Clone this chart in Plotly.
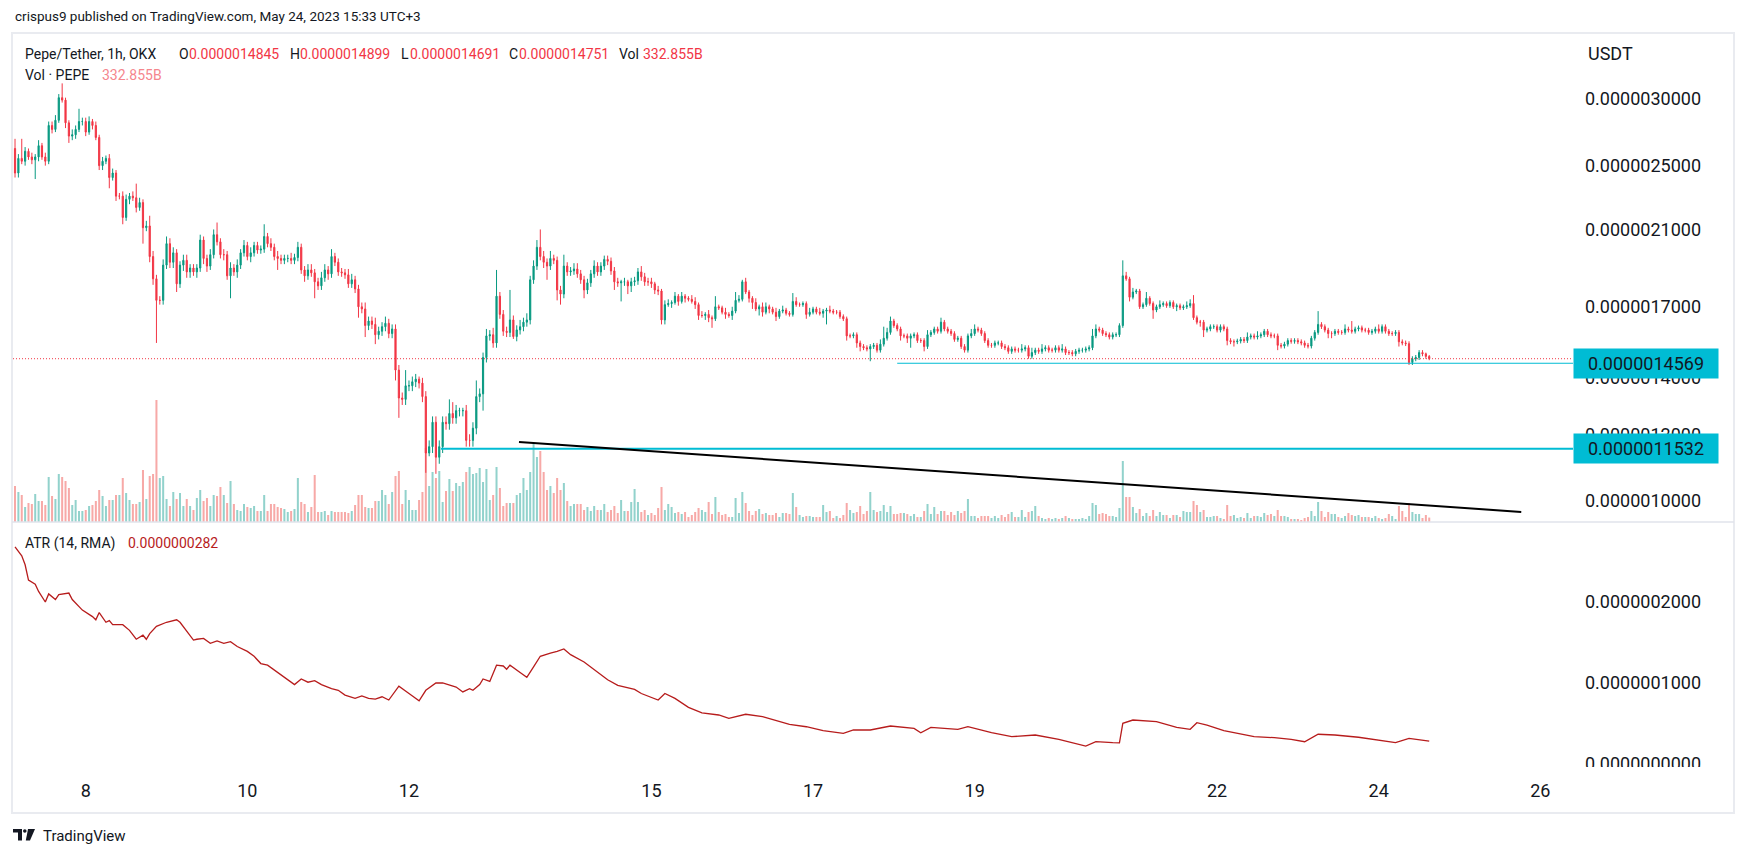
import numpy as np
import pandas as pd
import plotly.graph_objects as go

W, H = 1746, 856


def px(x):
    return x / W


def py(y):
    return 1 - y / H


# ---------------- data ----------------
first_open_e6 = 2.62
# hourly closes, x1e-6 USDT, one row per day (first row starts May 7 03:00)
closes_e6 = [
    2.45, 2.55, 2.53, 2.60, 2.56, 2.54, 2.56, 2.64, 2.56, 2.53, 2.79, 2.76, 2.83, 3.01, 2.99, 2.81, 2.71, 2.72, 2.76, 2.82, 2.82,
    2.74, 2.82, 2.79, 2.70, 2.50, 2.53, 2.55, 2.42, 2.45, 2.30, 2.30, 2.17, 2.28, 2.30, 2.29, 2.23, 2.26, 2.11, 2.12, 1.95, 1.835, 1.73, 1.73, 1.905,
    2.02, 1.92, 1.97, 1.81, 1.905, 1.93, 1.87, 1.89, 1.87, 1.89, 2.04, 1.94, 1.90, 1.96, 2.07, 2.03, 1.96, 1.96, 1.85, 1.89, 1.87, 1.905, 1.97, 2.01,
    1.95, 1.97, 2.01, 1.985, 1.99, 2.06, 2.02, 2.00, 1.95, 1.94, 1.93, 1.94, 1.94, 1.93, 1.945, 2.00, 1.88, 1.85, 1.88, 1.865, 1.82, 1.80, 1.84, 1.88,
    1.86, 1.95, 1.92, 1.87, 1.865, 1.855, 1.81, 1.83, 1.785, 1.70, 1.69, 1.615, 1.635, 1.62, 1.575, 1.59, 1.61, 1.625, 1.58, 1.60, 1.43, 1.325, 1.32, 1.37,
    1.37, 1.385, 1.395, 1.38, 1.33, 1.14, 1.16, 1.24, 1.127, 1.16, 1.24, 1.235, 1.27, 1.255, 1.28, 1.28, 1.28, 1.18, 1.18, 1.22, 1.33, 1.34, 1.48, 1.57,
    1.575, 1.54, 1.75, 1.665, 1.59, 1.585, 1.64, 1.567, 1.596, 1.61, 1.63, 1.64, 1.83, 1.90, 2.00, 1.95, 1.92, 1.90, 1.94, 1.93, 1.78, 1.76, 1.90, 1.87,
    1.875, 1.885, 1.86, 1.83, 1.78, 1.815, 1.86, 1.90, 1.87, 1.90, 1.935, 1.925, 1.875, 1.82, 1.815, 1.82, 1.82, 1.80, 1.82, 1.825, 1.87, 1.845, 1.82, 1.82,
    1.81, 1.78, 1.775, 1.64, 1.71, 1.715, 1.72, 1.75, 1.725, 1.75, 1.74, 1.735, 1.725, 1.71, 1.66, 1.66, 1.665, 1.65, 1.645, 1.70, 1.695, 1.675, 1.665, 1.66,
    1.68, 1.73, 1.735, 1.82, 1.77, 1.74, 1.72, 1.69, 1.70, 1.675, 1.70, 1.69, 1.675, 1.655, 1.68, 1.685, 1.67, 1.665, 1.725, 1.71, 1.71, 1.715, 1.665, 1.675,
    1.69, 1.675, 1.67, 1.68, 1.685, 1.68, 1.675, 1.675, 1.655, 1.645, 1.57, 1.57, 1.575, 1.54, 1.525, 1.52, 1.515, 1.525, 1.53, 1.51, 1.535, 1.56, 1.585, 1.635,
    1.615, 1.60, 1.57, 1.57, 1.56, 1.57, 1.575, 1.55, 1.55, 1.525, 1.575, 1.585, 1.60, 1.59, 1.63, 1.60, 1.59, 1.58, 1.555, 1.56, 1.525, 1.51, 1.57, 1.58,
    1.60, 1.595, 1.58, 1.55, 1.53, 1.53, 1.54, 1.54, 1.525, 1.52, 1.505, 1.515, 1.51, 1.51, 1.515, 1.52, 1.485, 1.50, 1.51, 1.505, 1.515, 1.52, 1.51, 1.51,
    1.52, 1.51, 1.515, 1.50, 1.50, 1.495, 1.505, 1.51, 1.51, 1.515, 1.52, 1.57, 1.60, 1.595, 1.58, 1.575, 1.565, 1.575, 1.575, 1.615, 1.85, 1.835, 1.745, 1.77,
    1.775, 1.70, 1.71, 1.74, 1.715, 1.685, 1.70, 1.71, 1.715, 1.705, 1.72, 1.70, 1.705, 1.695, 1.70, 1.705, 1.715, 1.65, 1.63, 1.63, 1.595, 1.60, 1.61, 1.61,
    1.595, 1.61, 1.60, 1.55, 1.545, 1.545, 1.548, 1.555, 1.55, 1.565, 1.57, 1.565, 1.57, 1.575, 1.59, 1.575, 1.57, 1.57, 1.53, 1.527, 1.535, 1.55, 1.547, 1.55,
    1.545, 1.54, 1.53, 1.527, 1.56, 1.585, 1.62, 1.61, 1.595, 1.58, 1.58, 1.59, 1.585, 1.585, 1.60, 1.595, 1.59, 1.60, 1.605, 1.595, 1.595, 1.585, 1.59, 1.60,
    1.59, 1.61, 1.59, 1.58, 1.58, 1.585, 1.545, 1.54, 1.537, 1.46, 1.475, 1.48, 1.50, 1.495, 1.4845, 1.4751,
]
# wick lengths above / below the body, x1e-8 USDT
upper_wick_e8 = [
    7, 3, 14, 3, 2, 3, 2, 4, 2, 3, 3, 3, 4, 3, 12, 2, 2, 4, 3, 10, 3,
    3, 4, 2, 3, 2, 3, 2, 3, 3, 2, 2, 3, 3, 2, 3, 9, 3, 2, 3, 6, 3, 2, 2, 3,
    4, 3, 3, 2, 2, 3, 3, 2, 2, 2, 3, 2, 2, 3, 3, 7, 2, 3, 2, 3, 2, 3, 2, 3,
    2, 3, 2, 2, 2, 7, 2, 3, 2, 3, 2, 2, 2, 3, 2, 3, 2, 2, 3, 3, 2, 2, 3, 3,
    2, 4, 2, 2, 2, 2, 3, 3, 2, 2, 2, 3, 2, 2, 3, 2, 2, 3, 2, 2, 2, 2, 2, 6,
    2, 2, 2, 1, 2, 2, 2, 2, 2, 2, 2, 2, 5, 4, 2, 1, 1, 2, 2, 2, 6, 2, 2, 3,
    2, 3, 13, 2, 2, 2, 14, 2, 2, 3, 2, 3, 2, 3, 4, 10, 3, 2, 4, 2, 2, 2, 6, 2,
    2, 3, 3, 2, 2, 2, 2, 3, 2, 2, 2, 2, 2, 2, 2, 1, 2, 1, 2, 2, 2, 3, 2, 2,
    2, 1, 2, 1, 2, 2, 1, 2, 1, 2, 1, 1, 2, 2, 1, 2, 1, 2, 1, 5, 1, 1, 2, 1,
    2, 4, 2, 1, 2, 1, 1, 2, 1, 2, 2, 1, 1, 2, 1, 2, 1, 1, 4, 2, 1, 1, 1, 2,
    1, 1, 2, 1, 1, 2, 1, 1, 1, 1, 1, 1, 1, 1, 1, 1, 1, 1, 1, 1, 2, 5, 2, 2,
    1, 1, 1, 1, 1, 1, 1, 1, 1, 1, 2, 1, 1, 1, 2, 1, 1, 1, 1, 1, 1, 1, 1, 2,
    2, 1, 1, 1, 1, 1, 1, 1, 1, 1, 1, 1, 1, 1, 2, 1, 1, 2, 1, 1, 2, 1, 1, 1,
    1, 1, 2, 1, 1, 1, 1, 1, 1, 1, 1, 3, 2, 1, 1, 1, 1, 1, 1, 1, 8, 2, 1, 2,
    1, 1, 1, 3, 1, 1, 1, 2, 1, 1, 1, 1, 1, 1, 1, 2, 2, 4, 1, 1, 1, 1, 1, 1,
    1, 1, 1, 1, 1, 1, 1, 1, 1, 2, 1, 1, 2, 1, 1, 1, 1, 1, 1, 1, 1, 1, 1, 1,
    1, 1, 1, 1, 1, 1, 6, 1, 1, 1, 1, 1, 1, 1, 2, 1, 4, 1, 1, 1, 1, 1, 1, 1,
    2, 1, 1, 1, 1, 1, 1, 1, 1, 1, 1, 1, 1, 1, 0.5, 0.54,
]
lower_wick_e8 = [
    3, 3, 2, 3, 2, 3, 13, 3, 2, 3, 2, 3, 2, 2, 2, 4, 5, 3, 3, 2, 3,
    3, 2, 3, 2, 3, 3, 2, 7, 2, 3, 2, 4, 2, 3, 2, 3, 2, 9, 2, 3, 3, 19, 2, 2,
    2, 3, 3, 4, 2, 3, 3, 3, 2, 3, 2, 3, 3, 2, 2, 2, 2, 3, 2, 11, 2, 3, 2, 2,
    2, 3, 2, 2, 2, 2, 2, 2, 2, 6, 2, 2, 2, 2, 2, 2, 2, 3, 2, 2, 8, 2, 2, 2,
    3, 2, 2, 2, 2, 2, 2, 2, 2, 5, 2, 5, 2, 2, 4, 2, 2, 2, 2, 2, 4, 7, 2, 2,
    2, 2, 2, 2, 2, 6, 1, 2, 5, 2, 2, 2, 2, 2, 2, 2, 2, 2, 2, 2, 2, 2, 6, 2,
    2, 2, 2, 2, 2, 2, 2, 1, 2, 2, 2, 2, 2, 2, 2, 2, 3, 7, 2, 2, 5, 5, 2, 2,
    2, 2, 2, 2, 4, 2, 2, 2, 2, 2, 2, 2, 2, 4, 2, 9, 2, 4, 3, 2, 2, 2, 2, 2,
    2, 2, 2, 2, 2, 1, 2, 1, 2, 1, 2, 1, 1, 2, 2, 1, 2, 2, 4, 1, 1, 1, 2, 1,
    2, 1, 1, 1, 1, 2, 3, 1, 3, 2, 1, 2, 1, 2, 1, 1, 1, 1, 1, 1, 1, 1, 2, 1,
    1, 1, 1, 2, 6, 1, 1, 1, 1, 1, 2, 1, 1, 2, 2, 1, 1, 5, 1, 1, 1, 1, 1, 1,
    1, 1, 2, 1, 2, 4, 1, 1, 1, 2, 1, 1, 1, 1, 1, 1, 1, 1, 1, 1, 1, 1, 1, 1,
    1, 1, 1, 1, 1, 1, 1, 1, 1, 1, 1, 1, 1, 1, 1, 1, 1, 1, 1, 1, 1, 1, 1, 1,
    1, 1, 1, 1, 1, 1, 1, 1, 1, 1, 1, 1, 1, 1, 1, 1, 1, 1, 1, 1, 1, 1, 2, 1,
    1, 1, 1, 1, 1, 4, 1, 1, 1, 1, 1, 1, 2, 1, 1, 1, 1, 1, 1, 2, 3, 1, 1, 1,
    1, 1, 1, 2, 1, 2, 1, 1, 1, 1, 1, 1, 1, 1, 1, 1, 1, 1, 2, 1, 1, 1, 1, 1,
    1, 1, 1, 1, 1, 1, 1, 1, 1, 2, 2, 1, 1, 1, 1, 1, 1, 1, 1, 1, 1, 1, 1, 1,
    1, 1, 1, 1, 1, 1, 2, 1, 1, 1, 1, 1, 1, 1, 1, 0.6,
]
# hourly volume, billions of PEPE
volume_b = [
    2700, 2250, 2025, 1125, 1425, 1350, 2100, 1575, 1575, 1275, 3375, 1950, 1725, 3600, 3375, 3075, 2550, 1275, 1650, 825, 825,
    900, 1200, 1275, 1575, 2400, 1950, 1200, 1650, 1650, 2025, 2025, 3300, 2175, 1650, 1350, 1350, 1500, 3900, 1725, 3450, 3600, 9150, 3300, 3450,
    1725, 1200, 2250, 1725, 2175, 1200, 1725, 1200, 900, 1800, 2400, 1575, 1800, 1200, 2025, 1950, 2625, 2025, 1425, 3075, 1350, 900, 825, 1350,
    1125, 1050, 1200, 825, 825, 2025, 825, 1350, 1350, 1125, 1050, 975, 750, 825, 975, 3300, 1500, 1350, 750, 1125, 3525, 750, 750, 825,
    525, 825, 750, 750, 750, 750, 675, 825, 1275, 2025, 2025, 1125, 1050, 1050, 1575, 1575, 2400, 2025, 1350, 2250, 3450, 3825, 1350, 2400,
    1650, 900, 900, 1650, 2250, 5550, 2700, 3750, 3300, 3825, 1500, 2325, 3225, 2325, 2925, 2700, 3000, 3750, 4125, 3600, 3675, 4050, 3000, 3975,
    1650, 2025, 4125, 2550, 1200, 1425, 1425, 1425, 2025, 2175, 3300, 2400, 3750, 5925, 4875, 5325, 3750, 2400, 2700, 2175, 3300, 2400, 2925, 1575,
    1200, 1350, 1350, 1350, 900, 1125, 825, 1200, 900, 900, 1350, 750, 900, 1200, 675, 1650, 825, 825, 1500, 2475, 1500, 750, 900, 525,
    675, 525, 1050, 2625, 900, 1350, 1125, 675, 750, 600, 750, 375, 525, 750, 1050, 900, 750, 1500, 600, 1875, 750, 525, 600, 375,
    375, 1800, 675, 2250, 1425, 825, 525, 825, 975, 600, 675, 525, 525, 675, 375, 675, 675, 600, 2175, 1125, 525, 375, 450, 450,
    375, 375, 375, 1275, 750, 825, 300, 450, 300, 525, 1425, 900, 675, 750, 1200, 600, 825, 2250, 900, 750, 825, 1275, 750, 1200,
    600, 600, 675, 675, 600, 450, 600, 375, 375, 825, 1350, 600, 1125, 600, 825, 825, 525, 750, 525, 825, 675, 825, 1725, 450,
    450, 300, 450, 450, 450, 300, 450, 300, 525, 375, 600, 750, 375, 375, 900, 375, 750, 825, 1200, 450, 300, 225, 300, 225,
    300, 225, 300, 450, 300, 225, 225, 225, 300, 225, 450, 1425, 1275, 600, 675, 600, 450, 450, 375, 1050, 4575, 1875, 1875, 1125,
    675, 975, 450, 675, 450, 900, 450, 750, 525, 525, 300, 525, 525, 375, 825, 750, 750, 1575, 1275, 750, 900, 375, 375, 450,
    450, 300, 225, 1275, 450, 525, 300, 375, 300, 675, 300, 450, 450, 375, 675, 525, 600, 450, 900, 450, 450, 375, 225, 225,
    225, 150, 300, 375, 825, 450, 1500, 825, 375, 750, 600, 600, 375, 300, 450, 675, 525, 450, 525, 375, 375, 375, 300, 450,
    300, 225, 300, 600, 450, 225, 1200, 825, 375, 1425, 750, 600, 600, 300, 525, 332.855,
]
# ATR(14, RMA), sampled at candle numbers, x1e-7
atr_idx = [0, 2, 3, 4, 6, 7, 9, 10, 12, 13, 16, 17, 20, 23, 24, 25, 27, 28, 29, 32,
           34, 36, 38, 39, 40, 42, 45, 48, 49, 53, 54, 56, 58, 60, 62, 64, 66, 69, 71, 73,
           75, 77, 80, 83, 85, 87, 89, 91, 94, 96, 98, 101, 103, 105, 107, 109, 111, 114, 117, 120,
           122, 125, 127, 131, 133, 135, 136, 138, 139, 141, 143, 145, 146, 147, 150, 152, 154, 156, 159, 161,
           163, 165, 169, 173, 176, 179, 184, 186, 191, 193, 196, 200, 204, 209, 212, 217, 222, 230, 235, 240,
           246, 249, 254, 260, 267, 269, 272, 280, 283, 290, 296, 303, 310, 318, 321, 326, 328, 329, 332, 339,
           345, 349, 351, 354, 359, 368, 374, 379, 383, 387, 392, 399, 406, 410, 414, 420]
atr_e7 = [2.68, 2.57, 2.46, 2.27, 2.22, 2.13, 2.00, 2.10, 2.03, 2.09, 2.11, 2.03, 1.90, 1.82, 1.78, 1.87, 1.75, 1.77, 1.72, 1.72,
          1.65, 1.54, 1.59, 1.54, 1.61, 1.70, 1.75, 1.78, 1.75, 1.53, 1.54, 1.55, 1.49, 1.52, 1.49, 1.51, 1.45, 1.39, 1.33, 1.24,
          1.22, 1.16, 1.06, 0.98, 1.05, 1.01, 1.03, 0.98, 0.93, 0.91, 0.85, 0.81, 0.84, 0.81, 0.80, 0.83, 0.79, 0.96, 0.87, 0.78,
          0.91, 1.00, 1.00, 0.95, 0.89, 0.93, 0.91, 0.98, 1.05, 1.02, 1.22, 1.21, 1.17, 1.22, 1.13, 1.07, 1.20, 1.33, 1.37, 1.39,
          1.42, 1.35, 1.26, 1.14, 1.04, 0.97, 0.92, 0.87, 0.79, 0.87, 0.81, 0.70, 0.63, 0.605, 0.564, 0.614, 0.584, 0.49, 0.46, 0.411,
          0.379, 0.42, 0.42, 0.469, 0.44, 0.386, 0.453, 0.428, 0.46, 0.386, 0.337, 0.358, 0.305, 0.222, 0.275, 0.263, 0.26, 0.502, 0.543, 0.522,
          0.453, 0.428, 0.51, 0.48, 0.411, 0.337, 0.325, 0.305, 0.275, 0.367, 0.358, 0.33, 0.288, 0.263, 0.317, 0.282]

# drawings
support_price = 1.1532e-6
support_start = "2023-05-12 09:30"
level_price = 1.4569e-6
level_start = "2023-05-18 01:00"
trend_times = ["2023-05-13 08:40", "2023-05-25 18:20"]
trend_prices = [1.175e-6, 0.9705e-6]

price_ticks = [3.0e-6, 2.5e-6, 2.1e-6, 1.7e-6, 1.4e-6, 1.2e-6, 1.0e-6]
price_tick_text = ["0.0000030000", "0.0000025000", "0.0000021000", "0.0000017000",
                   "0.0000014000", "0.0000012000", "0.0000010000"]
atr_ticks = [2e-7, 1e-7, 0.0]
atr_tick_text = ["0.0000002000", "0.0000001000", "0.0000000000"]
date_ticks = ["2023-05-08", "2023-05-10", "2023-05-12", "2023-05-15", "2023-05-17",
              "2023-05-19", "2023-05-22", "2023-05-24", "2023-05-26"]
date_tick_text = ["8", "10", "12", "15", "17", "19", "22", "24", "26"]
x_range = ["2023-05-07 02:24", "2023-05-26 09:42"]

# ---------------- derived ----------------
times = pd.date_range("2023-05-07 03:00", periods=len(closes_e6), freq="h")
close = np.array(closes_e6) * 1e-6
opn = np.concatenate([[first_open_e6 * 1e-6], close[:-1]])
high = np.maximum(opn, close) + np.array(upper_wick_e8) * 1e-8
low = np.minimum(opn, close) - np.array(lower_wick_e8) * 1e-8
up = close >= opn

UP, DN = "#089981", "#f23645"
VUP, VDN = "#92d2cc", "#f7a9a7"
CYAN = "#00bcd4"
TXT = "#131722"
FONT = "Roboto, Arial, sans-serif"

fig = go.Figure()
fig.add_trace(go.Bar(x=times, y=volume_b, xaxis="x", yaxis="y",
                     marker=dict(color=[VUP if u else VDN for u in up], line=dict(width=0)),
                     width=3600000 * 0.6))
fig.add_trace(go.Candlestick(x=times, open=opn, high=high, low=low, close=close,
                             xaxis="x", yaxis="y2", whiskerwidth=0,
                             increasing=dict(line=dict(color=UP, width=1), fillcolor=UP),
                             decreasing=dict(line=dict(color=DN, width=1), fillcolor=DN)))
# last price dotted line
fig.add_trace(go.Scatter(x=x_range, y=[close[-1], close[-1]], mode="lines", xaxis="x", yaxis="y2",
                         line=dict(color=DN, width=1, dash="1px,2px")))
fig.add_trace(go.Scatter(x=[level_start, x_range[1]], y=[level_price, level_price], mode="lines",
                         xaxis="x", yaxis="y2", line=dict(color=CYAN, width=1)))
fig.add_trace(go.Scatter(x=[support_start, x_range[1]], y=[support_price, support_price], mode="lines",
                         xaxis="x", yaxis="y2", line=dict(color=CYAN, width=2)))
fig.add_trace(go.Scatter(x=trend_times, y=trend_prices, mode="lines", xaxis="x", yaxis="y2",
                         line=dict(color="#000000", width=2)))
fig.add_trace(go.Scatter(x=times[atr_idx], y=np.array(atr_e7) * 1e-7, mode="lines",
                         xaxis="x2", yaxis="y3", line=dict(color="#b71c1c", width=1.3)))

axis_common = dict(showgrid=False, zeroline=False, showline=False, ticks="")

fig.update_layout(
    width=W, height=H, margin=dict(l=0, r=0, t=0, b=0, pad=0),
    paper_bgcolor="white", plot_bgcolor="white",
    showlegend=False, hovermode=False, boxgap=0.5,
    font=dict(family=FONT, color=TXT, size=18),
    xaxis=dict(domain=[px(13), px(1573)], range=x_range, type="date", anchor="y",
               showticklabels=False, rangeslider=dict(visible=False), **axis_common),
    yaxis=dict(domain=[py(522), py(34)], range=[0, 36600], visible=False, **axis_common),
    yaxis2=dict(overlaying="y", anchor="x", side="right", type="log",
                range=[-6.02494, -5.44587], tickvals=price_ticks, ticktext=price_tick_text,
                tickfont=dict(size=18, color=TXT), ticklabelstandoff=11, automargin=False,
                **axis_common),
    xaxis2=dict(domain=[px(13), px(1573)], matches="x", anchor="y3", type="date",
                tickvals=date_ticks, ticktext=date_tick_text, tickfont=dict(size=18, color=TXT),
                ticklabelstandoff=12, automargin=False, **axis_common),
    yaxis3=dict(domain=[py(766), py(522)], anchor="x2", side="right",
                range=[-0.0247e-7, 2.9877e-7], tickvals=atr_ticks, ticktext=atr_tick_text,
                tickfont=dict(size=18, color=TXT), ticklabelstandoff=11, automargin=False,
                **axis_common),
)

shapes = [
    dict(type="rect", xref="paper", yref="paper", x0=px(12), x1=px(1734), y0=py(813), y1=py(33),
         line=dict(color="#e9ebf0", width=2), layer="below"),
    dict(type="line", xref="paper", yref="paper", x0=px(12), x1=px(1734), y0=py(522), y1=py(522),
         line=dict(color="#e0e3eb", width=1.5), layer="above"),
    dict(type="rect", xref="paper", yref="paper", x0=px(1575), x1=px(1731), y0=py(811), y1=py(767),
         fillcolor="white", line=dict(width=0), layer="above"),
    # TradingView logo
    dict(type="rect", xref="paper", yref="paper", x0=px(13), x1=px(22), y0=py(832.5), y1=py(829),
         fillcolor=TXT, line=dict(width=0), layer="above"),
    dict(type="rect", xref="paper", yref="paper", x0=px(18), x1=px(22), y0=py(840.5), y1=py(829),
         fillcolor=TXT, line=dict(width=0), layer="above"),
    dict(type="circle", xref="paper", yref="paper", x0=px(23), x1=px(26.6), y0=py(832.8), y1=py(829.2),
         fillcolor=TXT, line=dict(width=0), layer="above"),
    dict(type="path", xref="paper", yref="paper",
         path=f"M {px(28)} {py(829)} L {px(35)} {py(829)} L {px(30)} {py(840.5)} L {px(25.8)} {py(840.5)} Z",
         fillcolor=TXT, line=dict(width=0), layer="above"),
]
fig.update_layout(shapes=shapes)


def note(x, y, text, size=14, color=TXT, **kw):
    d = dict(x=px(x), y=py(y), xref="paper", yref="paper", text=text, showarrow=False,
             xanchor="left", yanchor="middle", font=dict(size=size, color=color, family=FONT))
    d.update(kw)
    return d


RED_TXT = "#f23645"
annotations = [
    note(13, 16, "crispus9 published on TradingView.com, May 24, 2023 15:33 UTC+3", size=13.5),
    note(23, 54, "Pepe/Tether, 1h, OKX"),
    note(177, 54, "O"), note(187, 54, "0.0000014845", color=RED_TXT),
    note(288, 54, "H"), note(298, 54, "0.0000014899", color=RED_TXT),
    note(399, 54, "L"), note(408, 54, "0.0000014691", color=RED_TXT),
    note(507, 54, "C"), note(517, 54, "0.0000014751", color=RED_TXT),
    note(617, 54, "Vol"), note(641, 54, "332.855B", color=RED_TXT),
    note(23, 75, "Vol · PEPE"), note(100, 75, "332.855B", color="#f5868d"),
    note(23, 543, "ATR (14, RMA)"), note(126, 543, "0.0000000282", color="#b71c1c"),
    note(1586, 53, "USDT", size=18),
    note(41, 836, "TradingView", size=15),
    dict(x=px(1573), y=np.log10(level_price), xref="paper", yref="y2", text="0.0000014569",
         showarrow=False, xanchor="left", yanchor="middle", bgcolor=CYAN, width=140, height=25,
         borderpad=2, align="center", font=dict(size=18, color=TXT, family=FONT)),
    dict(x=px(1573), y=np.log10(support_price), xref="paper", yref="y2", text="0.0000011532",
         showarrow=False, xanchor="left", yanchor="middle", bgcolor=CYAN, width=140, height=25,
         borderpad=2, align="center", font=dict(size=18, color=TXT, family=FONT)),
]
fig.update_layout(annotations=annotations)

fig.write_html("out.html", config={"displayModeBar": False},
               post_script="document.body.style.margin='0px';document.body.style.overflow='hidden';")
